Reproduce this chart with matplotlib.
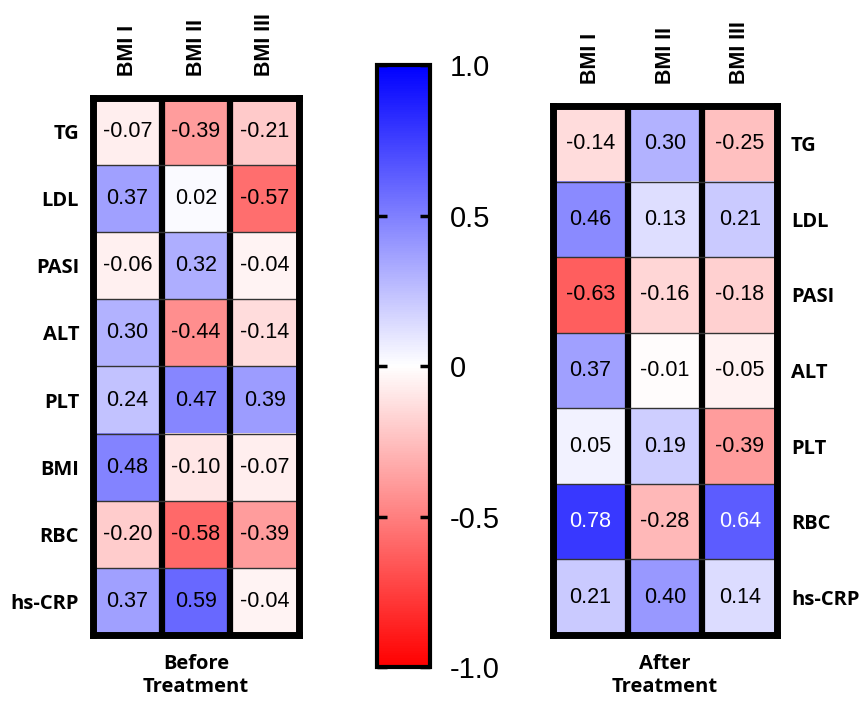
import numpy as np
import matplotlib
matplotlib.use("Agg")
import matplotlib.pyplot as plt

# data
cols = ["BMI I", "BMI II", "BMI III"]
rows_before = ["TG", "LDL", "PASI", "ALT", "PLT", "BMI", "RBC", "hs-CRP"]
rows_after = ["TG", "LDL", "PASI", "ALT", "PLT", "RBC", "hs-CRP"]

before = [
    [-0.07, -0.39, -0.21],
    [0.37, 0.02, -0.57],
    [-0.06, 0.32, -0.04],
    [0.30, -0.44, -0.14],
    [0.24, 0.47, 0.39],
    [0.48, -0.10, -0.07],
    [-0.20, -0.58, -0.39],
    [0.37, 0.59, -0.04],
]
after = [
    [-0.14, 0.30, -0.25],
    [0.46, 0.13, 0.21],
    [-0.63, -0.16, -0.18],
    [0.37, -0.01, -0.05],
    [0.05, 0.19, -0.39],
    [0.78, -0.28, 0.64],
    [0.21, 0.40, 0.14],
]
cbar_ticks = [-1.0, -0.5, 0, 0.5, 1.0]
cbar_labels = ["-1.0", "-0.5", "0", "0.5", "1.0"]

cmap = "bwr_r"
label_font = "Open Sans"
num_font = "Liberation Sans"


def draw_heat(ax, data, rows, side, title):
    data = np.array(data)
    im = ax.imshow(data, cmap=cmap, vmin=-1, vmax=1, aspect="auto")
    for i in range(data.shape[0]):
        for j in range(data.shape[1]):
            v = data[i, j]
            ax.text(j, i, f"{v:.2f}", ha="center", va="center",
                    fontsize=15.5, family=num_font,
                    color="white" if v >= 0.6 else "black")
    # thick column separators, thin row separators
    for x in np.arange(0.5, data.shape[1] - 1, 1):
        ax.axvline(x, color="black", lw=4.5)
    for y in np.arange(0.5, data.shape[0] - 1, 1):
        ax.axhline(y, color="#333333", lw=1.0)
    for sp in ax.spines.values():
        sp.set_linewidth(5)

    ax.xaxis.tick_top()
    ax.set_xticks(range(len(cols)))
    ax.set_xticklabels(cols, rotation=90, fontsize=15.5, fontweight="bold",
                       family=num_font)
    ax.set_yticks(range(len(rows)))
    ax.set_yticklabels(rows, fontsize=14.5, fontweight="bold", family=label_font)
    if side == "right":
        ax.yaxis.tick_right()
    ax.tick_params(length=0)
    ax.tick_params(axis="x", pad=16)
    ax.tick_params(axis="y", pad=10)
    ax.xaxis.set_label_position("bottom")
    ax.set_xlabel(title, fontsize=14.5, fontweight="bold", family=label_font,
                  labelpad=14, linespacing=1.2)
    return im


fig = plt.figure(figsize=(8.65, 7.05), dpi=100)
ax1 = fig.add_axes([0.1075, 0.0993, 0.2382, 0.7617])
ax2 = fig.add_axes([0.6393, 0.0993, 0.2590, 0.7503])
cax = fig.add_axes([0.4358, 0.0539, 0.0613, 0.8539])

im = draw_heat(ax1, before, rows_before, "left", "Before\nTreatment")
draw_heat(ax2, after, rows_after, "right", "After\nTreatment")

cb = fig.colorbar(im, cax=cax, ticks=cbar_ticks)
cb.ax.set_yticklabels(cbar_labels, fontsize=21, family=num_font)
cb.outline.set_linewidth(3)
cb.ax.tick_params(direction="in", length=7, width=2.5, left=True, right=True,
                  labelleft=False, labelright=True, pad=14)

fig.savefig("out.png", dpi=100)
